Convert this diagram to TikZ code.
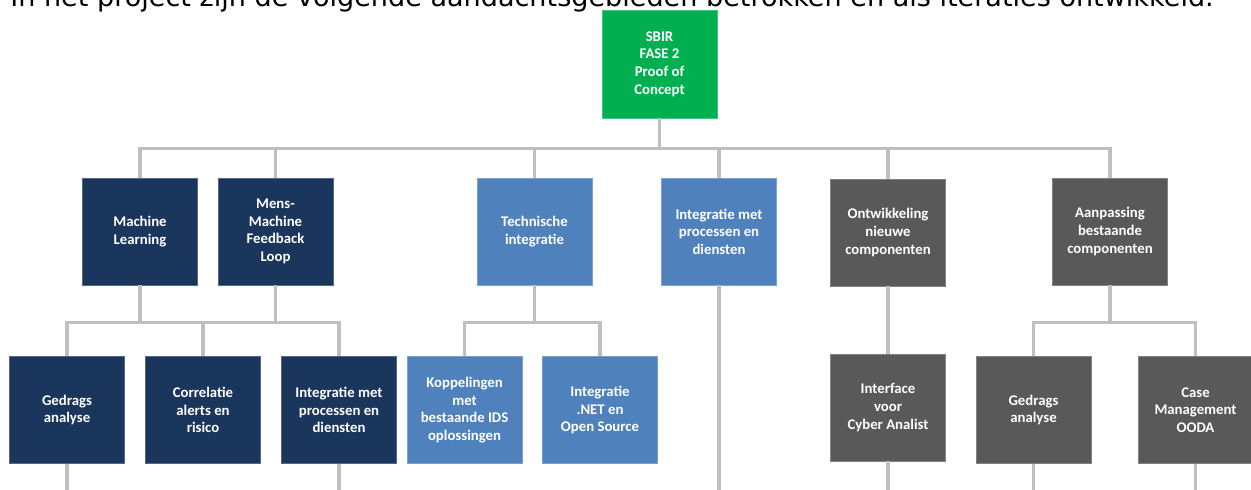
\documentclass[tikz,border=0pt]{standalone}
\usepackage{fontspec}
\setmainfont{Carlito}
\newfontfamily\introfont{DejaVu Sans}
\usepackage{tikz}

\definecolor{nachtblauw}{HTML}{1B365D}
\definecolor{staalblauw}{HTML}{4F81BD}
\definecolor{antraciet}{HTML}{595959}
\definecolor{sbirgroen}{HTML}{00B050}
\definecolor{lijngrijs}{HTML}{BFBFBF}

\tikzset{
  tak/.style={draw=lijngrijs,line width=2pt},
  blok/.style={fill=#1,draw=#1!75!white,line width=.4pt,minimum width=2.3cm,
    minimum height=2.14cm,inner sep=1pt,align=center,text=white,
    font=\bfseries\fontsize{8.4}{10}\selectfont},
}

\begin{document}
\begin{tikzpicture}[x=0.02cm,y=-0.02cm]
\clip (0,0) rectangle (1251,490);
\node[anchor=base west,inner sep=0,font=\introfont\fontsize{15.4}{18}\selectfont] (intro) at (10,7)
  {In het project zijn de volgende aandachtsgebieden betrokken en als iteraties ontwikkeld.};

\node[blok=sbirgroen,minimum height=2.16cm] (sbir) at (659.5,64) {SBIR\\FASE 2\\Proof of\\Concept};

\node[blok=nachtblauw] (ml) at (140,231.5) {Machine\\Learning};
\node[blok=nachtblauw] (mmf) at (275.5,231.5) {Mens-\\Machine\\Feedback\\Loop};
\node[blok=staalblauw] (tech) at (534.5,231.5) {Technische\\integratie};
\node[blok=staalblauw] (intg) at (719,231.5) {Integratie met\\processen en\\diensten};
\node[blok=antraciet] (ontw) at (888,232.5) {Ontwikkeling\\nieuwe\\componenten};
\node[blok=antraciet] (aanp) at (1110,231.5) {Aanpassing\\bestaande\\componenten};

\node[blok=nachtblauw] (ged1) at (67,410) {Gedrags\\analyse};
\node[blok=nachtblauw] (corr) at (203,410) {Correlatie\\alerts en\\risico};
\node[blok=nachtblauw] (intm) at (339,410) {Integratie met\\processen en\\diensten};
\node[blok=staalblauw] (kopp) at (464.5,410) {Koppelingen\\met\\bestaande IDS\\oplossingen};
\node[blok=staalblauw] (net) at (600,410) {Integratie\\.NET en\\Open Source};
\node[blok=antraciet] (intf) at (888,407.5) {Interface\\voor\\Cyber Analist};
\node[blok=antraciet] (ged2) at (1033.5,410) {Gedrags\\analyse};
\node[blok=antraciet] (case) at (1195.5,410) {Case\\Management\\OODA};

\coordinate (onder) at (0,490);

\foreach \n in {ml,mmf,tech,intg,ontw,aanp}
  \draw[tak] (sbir.south) -- ++(0,30) -| (\n.north);
\foreach \n in {ged1,corr,intm}
  \draw[tak] (ml.south) -- ++(0,37) -| (\n.north);
\draw[tak] (mmf.south) -- ++(0,37) -| (intm.north);
\foreach \n in {kopp,net}
  \draw[tak] (tech.south) -- ++(0,37) -| (\n.north);
\draw[tak] (ontw.south) -- (intf.north);
\foreach \n in {ged2,case}
  \draw[tak] (aanp.south) -- ++(0,37) -| (\n.north);
\foreach \n in {ged1,intm,intg,intf,ged2,case}
  \draw[tak] (\n.south) -- (\n.south |- onder);
\end{tikzpicture}
\end{document}
